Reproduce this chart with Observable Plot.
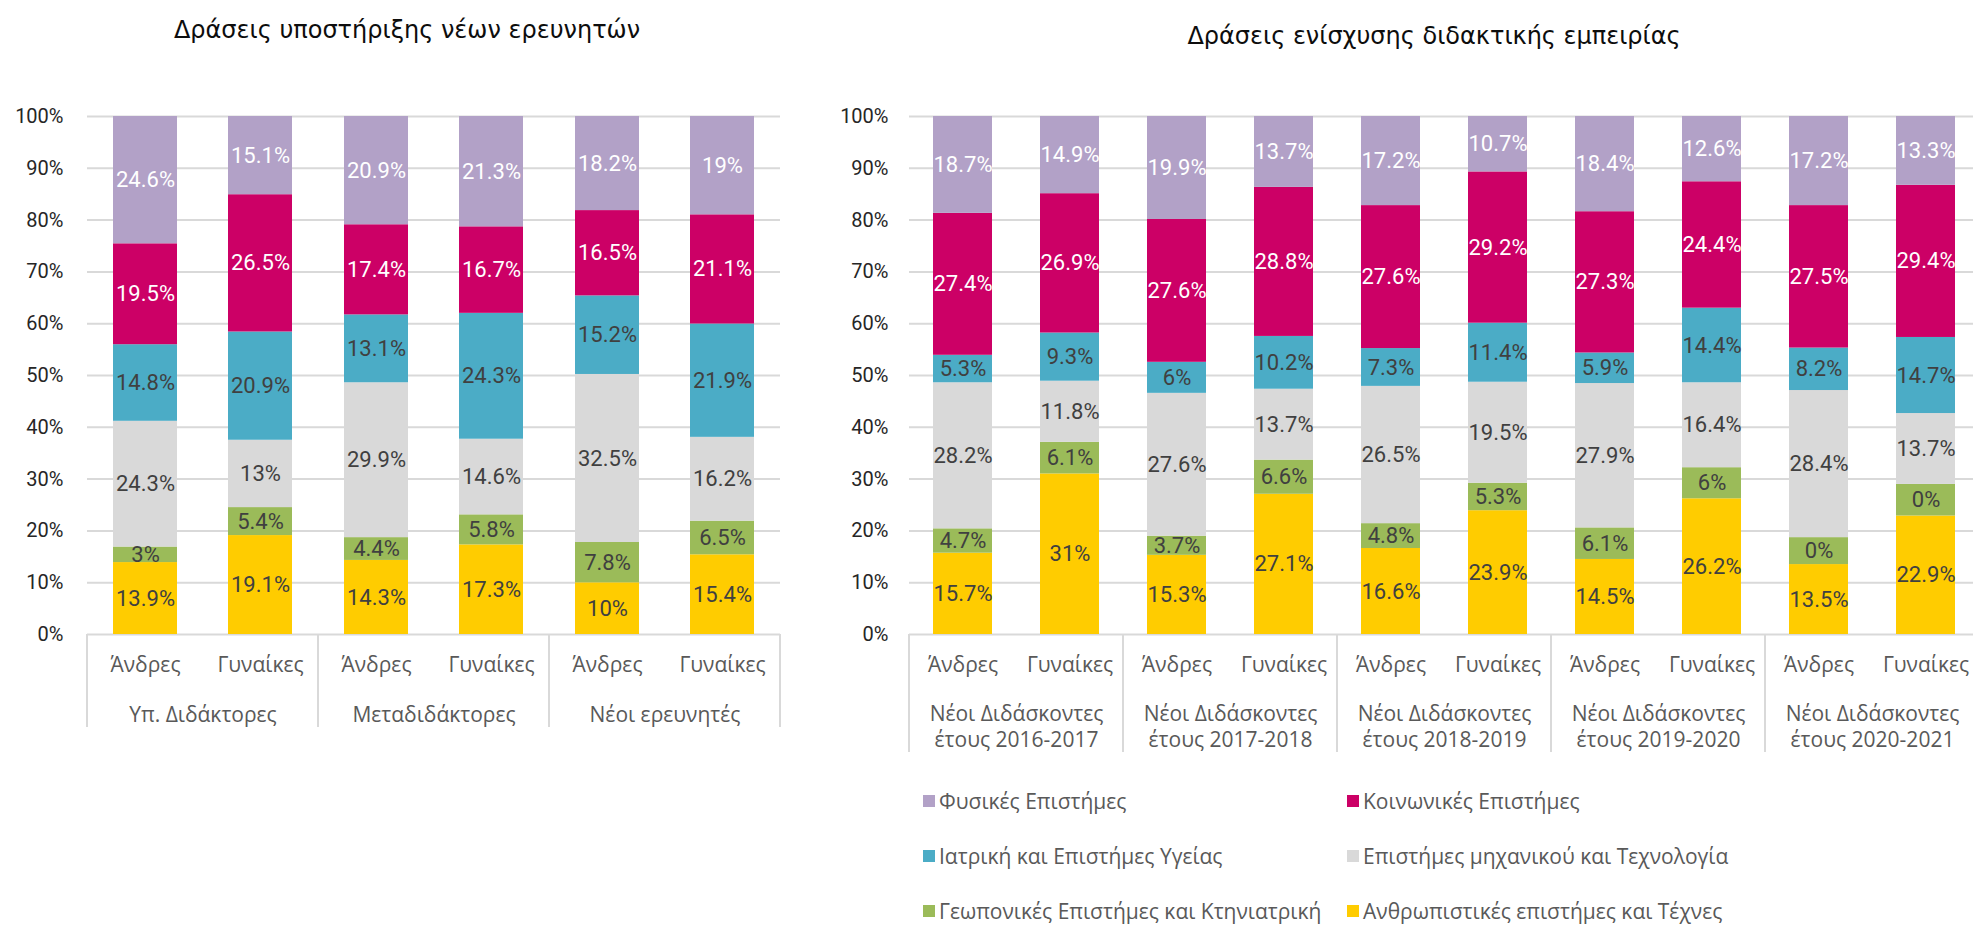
<!DOCTYPE html>
<html><head><meta charset="utf-8">
<script src="https://cdn.jsdelivr.net/npm/d3@7"></script>
<script src="https://cdn.jsdelivr.net/npm/@observablehq/plot@0.6"></script>
<style>
html, body { margin:0; padding:0; background:#fff; overflow:hidden; width:1973px; height:925px; }
#root { position:relative; width:1973px; height:925px; overflow:hidden; }
.title { position:absolute; font-family:"DejaVu Sans", sans-serif; font-size:24px; color:#0d0d0d; white-space:nowrap; transform:translate(-50%,-50%); }
.chart { position:absolute; top:0; }
#legend { position:absolute; left:923px; top:789px; display:grid; grid-template-columns:424px 320px; grid-auto-rows:55px; font-family:"Open Sans", sans-serif; font-size:21px; color:#595959; }
.item { display:flex; align-items:center; height:24px; white-space:nowrap; }
.sw { width:12px; height:12px; margin-right:4px; flex:none; }
</style></head>
<body><div id="root"></div>
<script>
// ---------- data ----------
const genders = ["Άνδρες", "Γυναίκες"];
const series = [
  "Ανθρωπιστικές επιστήμες και Τέχνες",
  "Γεωπονικές Επιστήμες και Κτηνιατρική",
  "Επιστήμες μηχανικού και Τεχνολογία",
  "Ιατρική και Επιστήμες Υγείας",
  "Κοινωνικές Επιστήμες",
  "Φυσικές Επιστήμες"
];
const yTickValues = [0, 10, 20, 30, 40, 50, 60, 70, 80, 90, 100];

// Chart 1: Δράσεις υποστήριξης νέων ερευνητών
const title1 = "Δράσεις υποστήριξης νέων ερευνητών";
const groups1 = ["Υπ. Διδάκτορες", "Μεταδιδάκτορες", "Νέοι ερευνητές"];
const humanities1 = [13.9, 19.1, 14.3, 17.3, 10, 15.4];
const agri1       = [3, 5.4, 4.4, 5.8, 7.8, 6.5];
const engineering1= [24.3, 13, 29.9, 14.6, 32.5, 16.2];
const medicine1   = [14.8, 20.9, 13.1, 24.3, 15.2, 21.9];
const social1     = [19.5, 26.5, 17.4, 16.7, 16.5, 21.1];
const natural1    = [24.6, 15.1, 20.9, 21.3, 18.2, 19];

// Chart 2: Δράσεις ενίσχυσης διδακτικής εμπειρίας
const title2 = "Δράσεις ενίσχυσης διδακτικής εμπειρίας";
const groups2 = [
  "Νέοι Διδάσκοντες έτους 2016-2017",
  "Νέοι Διδάσκοντες έτους 2017-2018",
  "Νέοι Διδάσκοντες έτους 2018-2019",
  "Νέοι Διδάσκοντες έτους 2019-2020",
  "Νέοι Διδάσκοντες έτους 2020-2021"
];
const humanities2 = [15.7, 31, 15.3, 27.1, 16.6, 23.9, 14.5, 26.2, 13.5, 22.9];
const agri2       = [4.7, 6.1, 3.7, 6.6, 4.8, 5.3, 6.1, 6, 5.2, 6.1];   // bar heights as drawn
const agri2Printed= [4.7, 6.1, 3.7, 6.6, 4.8, 5.3, 6.1, 6, 0, 0];       // labels as printed
const engineering2= [28.2, 11.8, 27.6, 13.7, 26.5, 19.5, 27.9, 16.4, 28.4, 13.7];
const medicine2   = [5.3, 9.3, 6, 10.2, 7.3, 11.4, 5.9, 14.4, 8.2, 14.7];
const social2     = [27.4, 26.9, 27.6, 28.8, 27.6, 29.2, 27.3, 24.4, 27.5, 29.4];
const natural2    = [18.7, 14.9, 19.9, 13.7, 17.2, 10.7, 18.4, 12.6, 17.2, 13.3];

// ---------- styles ----------
const seriesColors = ["#FFCC00", "#9BBB59", "#D9D9D9", "#4BACC6", "#CC0066", "#B2A1C7"];
const labelColors  = ["#404040", "#404040", "#404040", "#404040", "#FFFFFF", "#FFFFFF"];
const narrow = "'Roboto', sans-serif";
const plotTop = 116, plotBottom = 634;

function separators(len) {
  return (index, scales, values, dims) => {
    const g = d3.create("svg:g").attr("stroke", "#d9d9d9").attr("stroke-width", 2);
    const y0 = dims.height - dims.marginBottom;
    for (const x of [dims.marginLeft, dims.width - dims.marginRight]) {
      g.append("line").attr("x1", x).attr("x2", x).attr("y1", y0).attr("y2", y0 + len);
    }
    return g.node();
  };
}

function buildChart({groups, values, printed, width, height, marginLeft, marginRight, yPad, groupDy, sepLen}) {
  const data = [];
  groups.forEach((g, gi) => genders.forEach((s, si) => {
    const i = gi * genders.length + si;
    series.forEach((name, k) => {
      const shown = printed[k] ? printed[k][i] : values[k][i];
      data.push({group: g, gender: s, field: name, value: values[k][i], label: `${shown}%`,
                 color: seriesColors[k], labelColor: labelColors[k]});
    });
  }));
  const yt = yTickValues.map(v => v / 100);
  return Plot.plot({
    width, height, marginLeft, marginRight,
    marginTop: plotTop, marginBottom: height - plotBottom,
    style: {fontFamily: "'Open Sans', sans-serif", fontSize: "21px", background: "transparent", overflow: "visible"},
    fx: {domain: groups, padding: 0, axis: null},
    x: {domain: genders, paddingInner: 0.445, paddingOuter: 0.2225},
    y: {domain: [0, 1]},
    color: {type: "identity"},
    marks: [
      Plot.gridY(yt, {stroke: "#d9d9d9", strokeOpacity: 1, strokeWidth: 2}),
      Plot.barY(data, Plot.stackY({offset: "normalize", fx: "group", x: "gender", y: "value", z: "field", fill: "color"})),
      Plot.text(data, Plot.stackY({offset: "normalize", fx: "group", x: "gender", y: "value", z: "field",
        text: "label", fill: "labelColor", fontFamily: narrow, fontSize: 22})),
      Plot.axisY(yt, {label: null, tickFormat: d3.format(".0%"), tickSize: 0, tickPadding: yPad, fontFamily: narrow, fontSize: 20, fill: "#262626"}),
      Plot.axisX({label: null, tickSize: 0, tickPadding: 23, fill: "#595959", fontSize: 21}),
      Plot.text(groups, {fx: d => d, text: d => d.replace(" έτους", "\nέτους"), frameAnchor: "bottom",
        lineAnchor: "top", dy: groupDy, lineHeight: 1.24, fill: "#595959", fontSize: 21}),
      separators(sepLen)
    ]
  });
}

const root = document.getElementById("root");

const c1 = buildChart({
  groups: groups1,
  values: [humanities1, agri1, engineering1, medicine1, social1, natural1],
  printed: [],
  width: 800, height: 760, marginLeft: 87, marginRight: 20, yPad: 24, groupDy: 69, sepLen: 93
});
c1.classList.add("chart"); c1.style.left = "0px";
root.appendChild(c1);

const c2 = buildChart({
  groups: groups2,
  values: [humanities2, agri2, engineering2, medicine2, social2, natural2],
  printed: [null, agri2Printed],
  width: 1179, height: 770, marginLeft: 109, marginRight: 0, yPad: 21, groupDy: 68, sepLen: 118
});
c2.classList.add("chart"); c2.style.left = "800px";
root.appendChild(c2);

function addTitle(text, cx, cy) {
  const t = document.createElement("div");
  t.className = "title"; t.textContent = text;
  t.style.left = cx + "px"; t.style.top = cy + "px";
  root.appendChild(t);
}
addTitle(title1, 407, 30);
addTitle(title2, 1434, 36);

// legend (row-major, top series first)
const legend = document.createElement("div");
legend.id = "legend";
series.map((s, k) => k).reverse().forEach(k => {
  const it = document.createElement("div"); it.className = "item";
  const sw = document.createElement("span"); sw.className = "sw"; sw.style.background = seriesColors[k];
  const tx = document.createElement("span"); tx.textContent = series[k];
  it.appendChild(sw); it.appendChild(tx); legend.appendChild(it);
});
root.appendChild(legend);
</script>
</body></html>
